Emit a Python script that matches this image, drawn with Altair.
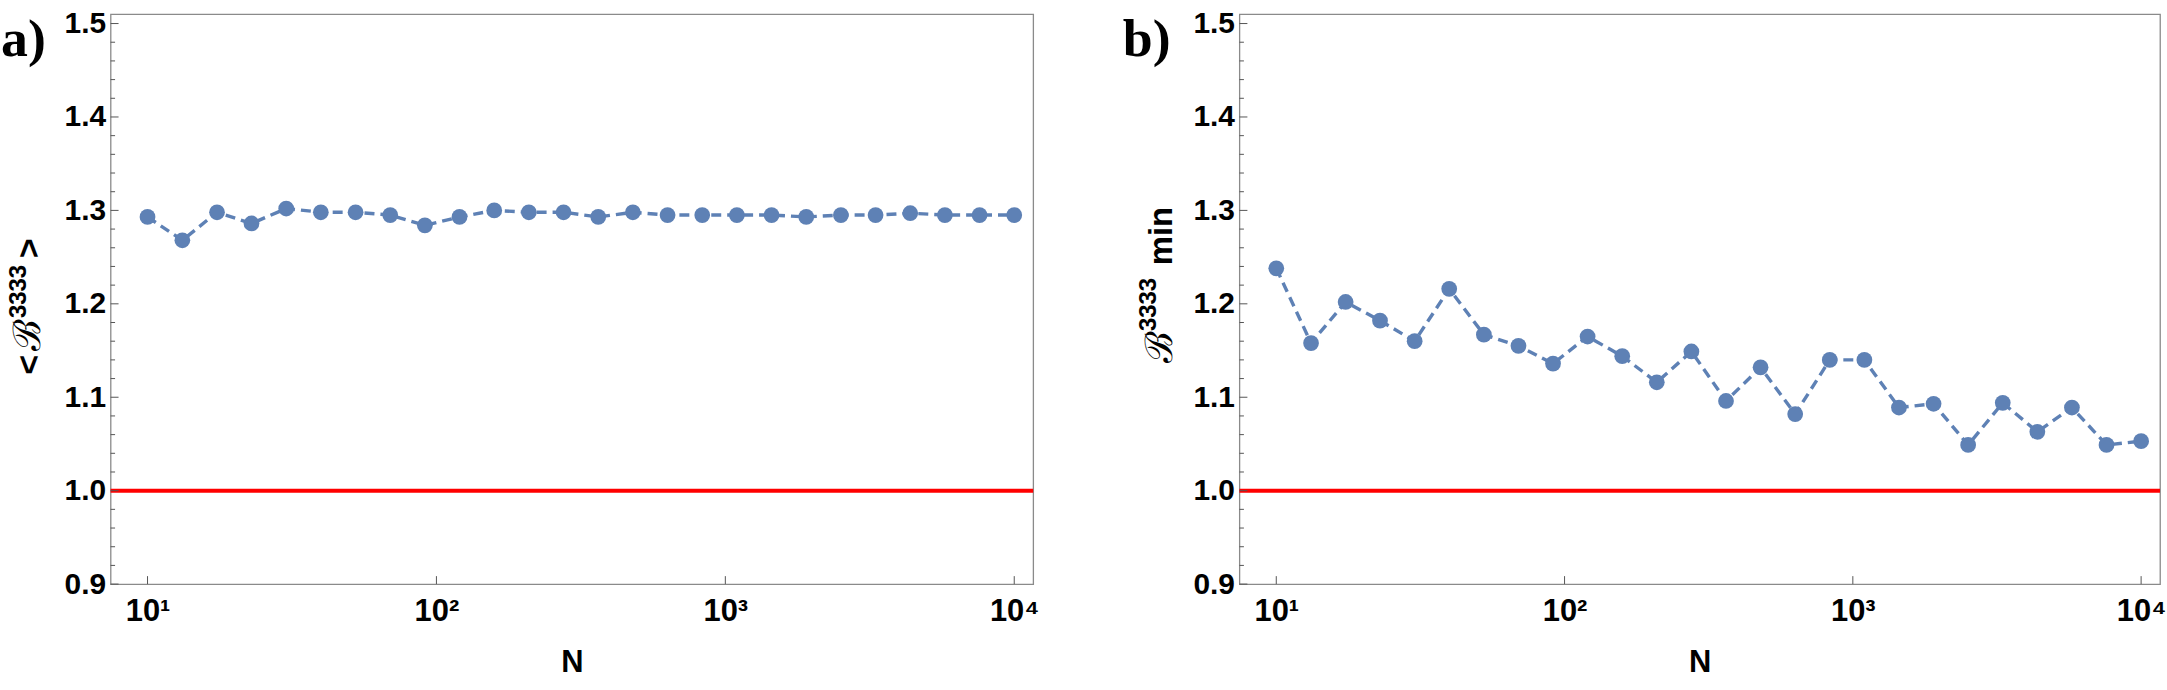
import altair as alt
import pandas as pd

# ---- data ----
N_values = [10, 13.2, 17.4, 22.9, 30.2, 39.8, 52.5, 69.2, 91.2, 120.2, 158.5, 208.9, 275.4,
            363.1, 478.6, 631.0, 831.8, 1096.5, 1445.4, 1905.5, 2511.9, 3311.3, 4365.2,
            5754.4, 7585.8, 10000]
B_mean = [1.293, 1.268, 1.298, 1.286, 1.302, 1.298, 1.298, 1.295, 1.284, 1.293, 1.300, 1.298,
          1.298, 1.293, 1.298, 1.295, 1.295, 1.295, 1.295, 1.293, 1.295, 1.295, 1.297, 1.295,
          1.295, 1.295]
B_min = [1.238, 1.158, 1.202, 1.182, 1.160, 1.216, 1.167, 1.155, 1.136, 1.165, 1.144, 1.116,
         1.149, 1.096, 1.132, 1.082, 1.140, 1.140, 1.089, 1.093, 1.049, 1.094, 1.063, 1.089,
         1.049, 1.053]
reference_level = [1.0]

y_major_ticks = [0.9, 1.0, 1.1, 1.2, 1.3, 1.4, 1.5]
y_minor_ticks = [0.92, 0.94, 0.96, 0.98, 1.02, 1.04, 1.06, 1.08, 1.12, 1.14, 1.16, 1.18,
                 1.22, 1.24, 1.26, 1.28, 1.32, 1.34, 1.36, 1.38, 1.42, 1.44, 1.46, 1.48]
x_major_ticks = [10, 100, 1000, 10000]
x_tick_labels = ["10¹", "10²", "10³", "10⁴"]

panel_labels = ["a)", "b)"]
# y-axis titles, split into pieces: (text, kind)
title_a = [("<", "bracket"), ("ℬ", "script"), ("3333", "sup"), (">", "bracket")]
title_b = [("ℬ", "script"), ("3333", "sup"), ("min", "plain")]
x_title = "N"

# ---- styling ----
H = 572
BLUE = "#5E81B5"
FONT = "Liberation Sans"

label_expr = " : ".join(
    [f"datum.value == {v} ? '{l}'" for v, l in zip(x_major_ticks[:-1], x_tick_labels[:-1])]
) + f" : '{x_tick_labels[-1]}'"

x_scale = alt.Scale(type="log", domain=[7.45, 11630], nice=False)
y_scale = alt.Scale(domain=[0.9, 1.51], nice=False, zero=False)

piece_style = {
    "bracket": dict(font=FONT, fontWeight="bold", fontSize=34),
    "script": dict(font="DejaVu Serif", fontWeight="normal", fontSize=38),
    "sup": dict(font=FONT, fontWeight="bold", fontSize=24),
    "plain": dict(font=FONT, fontWeight="bold", fontSize=33),
}


def title_layers(pieces, xs, ys):
    layers = []
    for (txt, kind), px, py in zip(pieces, xs, ys):
        layers.append(
            alt.Chart(pd.DataFrame({"t": [txt]})).mark_text(
                angle=270, align="left", baseline="alphabetic", color="black",
                **piece_style[kind]).encode(text="t:N", x=alt.value(px), y=alt.value(py))
        )
    return layers


def panel(values, label, label_x, tlayers, width):
    df = pd.DataFrame({"N": N_values, "B": values})
    ref = pd.DataFrame({"y": reference_level})
    ymaj = pd.DataFrame({"y": y_major_ticks})
    ymin = pd.DataFrame({"y": y_minor_ticks})
    xmaj = pd.DataFrame({"x": x_major_ticks})

    x_enc = alt.X(
        "N:Q", scale=x_scale,
        axis=alt.Axis(values=x_major_ticks, labelExpr=label_expr, ticks=False, domain=False,
                      grid=False, labelFont=FONT, labelFontWeight="bold", labelFontSize=31,
                      labelColor="black", labelPadding=13, labelBaseline="top",
                      title=x_title, titleFont=FONT, titleFontWeight="bold",
                      titleFontSize=31, titleColor="black", titleY=64,
                      titleBaseline="top", labelFlush=False),
    )
    y_enc = alt.Y(
        "B:Q", scale=y_scale,
        axis=alt.Axis(values=y_major_ticks, format=".1f", ticks=False, domain=False,
                      grid=False, labelFont=FONT, labelFontWeight="bold", labelFontSize=30,
                      labelColor="black", labelPadding=5, labelFlush=False, title=""),
    )

    red = alt.Chart(ref).mark_rule(color="#FF0000", strokeWidth=4).encode(
        y=alt.Y("y:Q", scale=y_scale))
    line = alt.Chart(df).mark_line(color=BLUE, strokeWidth=3.4, strokeDash=[10, 6]).encode(
        x=x_enc, y=y_enc)
    pts = alt.Chart(df).mark_circle(color=BLUE, size=250, opacity=1).encode(
        x=alt.X("N:Q", scale=x_scale), y=alt.Y("B:Q", scale=y_scale))
    tmaj = alt.Chart(ymaj).mark_rule(color="#555555", strokeWidth=1).encode(
        y=alt.Y("y:Q", scale=y_scale), x=alt.value(0), x2=alt.value(8))
    tmin = alt.Chart(ymin).mark_rule(color="#555555", strokeWidth=1).encode(
        y=alt.Y("y:Q", scale=y_scale), x=alt.value(0), x2=alt.value(4.5))
    txm = alt.Chart(xmaj).mark_rule(color="#555555", strokeWidth=1).encode(
        x=alt.X("x:Q", scale=x_scale), y=alt.value(H), y2=alt.value(H - 8))
    lab = alt.Chart(pd.DataFrame({"t": [label]})).mark_text(
        font="Liberation Serif", fontWeight="bold", fontSize=54, align="left",
        baseline="alphabetic", color="black").encode(
        text="t:N", x=alt.value(label_x), y=alt.value(42))

    return alt.layer(red, line, pts, tmaj, tmin, txm, lab, *tlayers).properties(
        width=width, height=H)


tl_a = title_layers(title_a, [-71, -71, -85, -71], [362, 338, 305, 245])
tl_b = title_layers(title_b, [-68, -84, -68], [350, 318, 252])

chart_a = panel(B_mean, panel_labels[0], -110, tl_a, 926)
chart_b = panel(B_min, panel_labels[1], -117, tl_b, 924)

chart = alt.hconcat(chart_a, chart_b, spacing=82).properties(
    padding={"left": 0, "top": 6, "right": 0, "bottom": 0},
    background="white",
).configure_view(stroke="#8a8a8a", strokeWidth=1.3)

chart.save("out.html", embed_options={"renderer": "svg", "actions": False})
